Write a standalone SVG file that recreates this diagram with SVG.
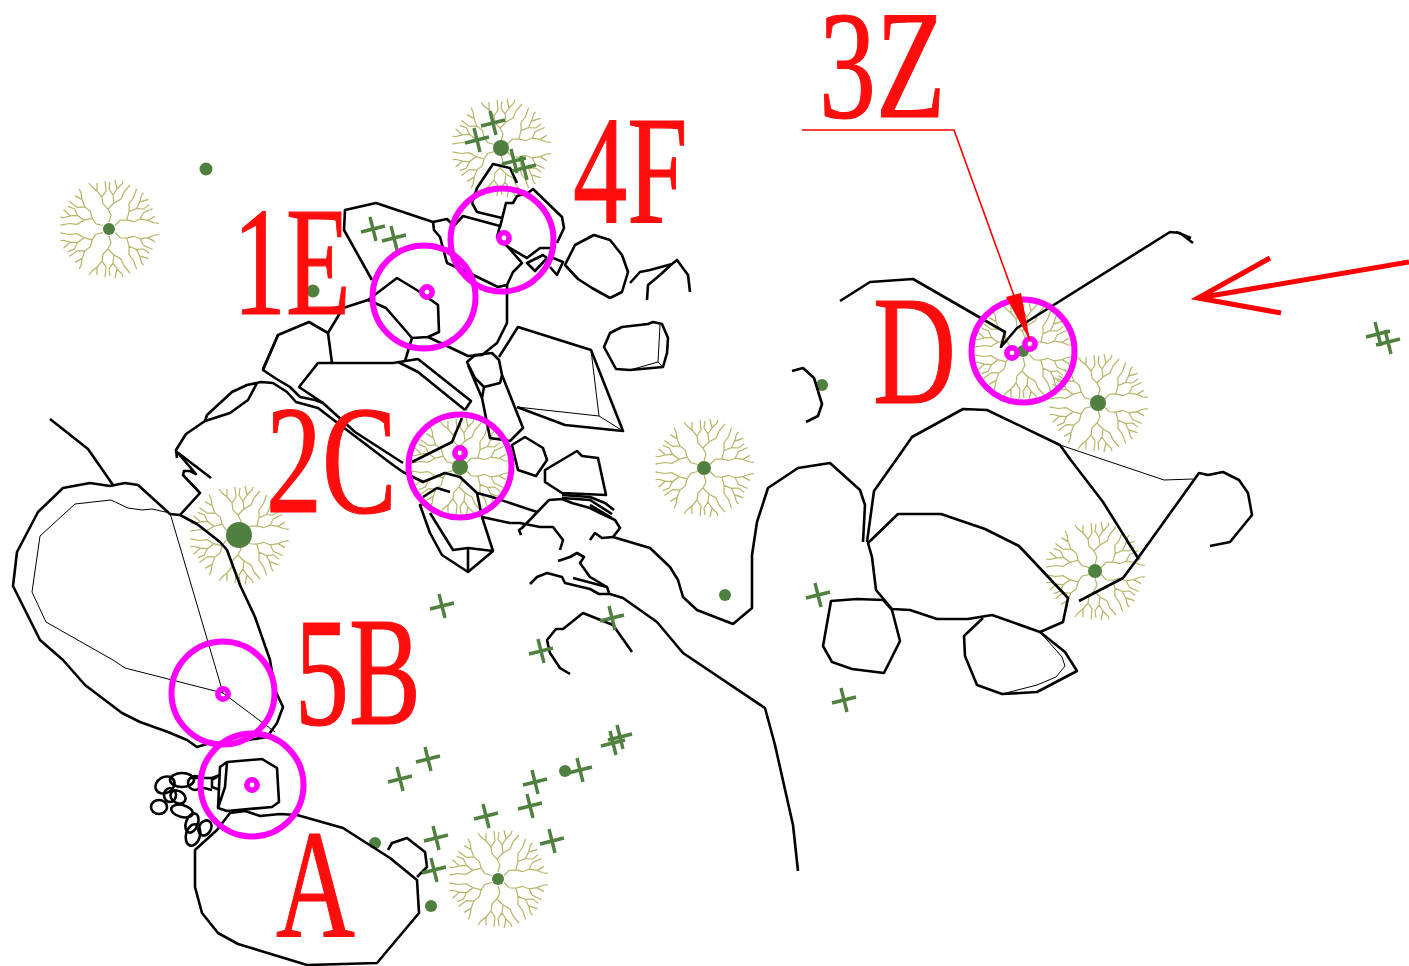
<svg xmlns="http://www.w3.org/2000/svg" width="1409" height="966" viewBox="0 0 1409 966">
<style>
.k{fill:none;stroke:#000;stroke-width:2.6;stroke-linejoin:round;stroke-linecap:butt}
.t{fill:none;stroke:#000;stroke-width:1}
.p{fill:none;stroke:#f0f;stroke-width:6}
.r{fill:none;stroke:#f0f;stroke-width:5.5}
.g{fill:#50803f}
.c{fill:none;stroke:#50803f;stroke-width:3.4}
.l{font-family:"Liberation Serif","Times New Roman",serif;font-size:154px;fill:#ff0d0d;stroke:#ff0d0d;stroke-width:1.2}
</style>
<defs>
<path id="w" d="M0-7L2-14L-1-20L-6-25L-7-32L-12-38L-12-46M-7-32L-3-38L-4-48M-12-38L-17-42L-20-46M-1-20L5-26L4-34L8-40L6-49M4-34L0-40L1-47M8-40L13-45L14-48M5-26L12-30L15-37L21-44"/>
<g id="tree" fill="none" stroke="#b5b568" stroke-width="1.2">
<use href="#w"/><use href="#w" transform="rotate(60) scale(-1 1)"/><use href="#w" transform="rotate(120)"/><use href="#w" transform="rotate(180) scale(-1 1)"/><use href="#w" transform="rotate(240)"/><use href="#w" transform="rotate(300) scale(-1 1)"/>
</g>
<path id="x" d="M-12 3L12-3M-3-12L3 12"/>
</defs>
<rect width="1409" height="966" fill="#fff"/>
<g id="trees">
<use href="#tree" x="109" y="229"/><use href="#tree" x="501" y="148"/><use href="#tree" x="239" y="535"/><use href="#tree" x="460" y="467"/><use href="#tree" x="704" y="468"/><use href="#tree" x="1023" y="351"/><use href="#tree" x="1098" y="403"/><use href="#tree" x="1095" y="571"/><use href="#tree" x="498" y="879"/>
</g>
<g id="dots" class="g">
<circle cx="109" cy="229" r="6"/><circle cx="501" cy="148" r="8"/><circle cx="239" cy="535" r="13"/><circle cx="460" cy="467" r="8"/><circle cx="704" cy="468" r="7"/><circle cx="1023" cy="351" r="6"/><circle cx="1098" cy="403" r="8"/><circle cx="1095" cy="571" r="7"/><circle cx="498" cy="879" r="6"/>
<circle cx="206" cy="169" r="6.5"/><circle cx="313" cy="291" r="6.5"/><circle cx="822" cy="385" r="6"/><circle cx="725" cy="595" r="6"/><circle cx="565" cy="771" r="6"/><circle cx="375" cy="843" r="6"/><circle cx="431" cy="906" r="6"/>
</g>
<g id="connectors">
<g class="k">
<path d="M50 419L88 449L113 485"/>
<path d="M63 488L90 483L110 486L125 483L138 485L170 514L180 515L197 524L220 542L227 550L240 585L255 617L270 660L275 690L283 707L277 723L267 737L230 743L210 743L197 747L187 740L168 732L140 722L122 713L85 685L63 660L40 640L13 586L17 552L38 512Z"/>
<path d="M180 515L200 493L183 475L184 471L190 471L196 474L177 452L211 478M177 458L176 450L186 434L205 421L230 413L248 400L257 383M205 421L207 415L232 392L247 385L261 382L273 383L287 392L296 402L318 408L335 421L393 465L403 472L423 482L445 473L460 477L477 493L492 497L537 512"/>
<path d="M278 335L263 370L275 378L290 387L300 397L315 400L323 403L355 432L403 463"/>
<path d="M263 369L278 335L309 322L328 333L332 363M328 333L343 308L368 300L386 308L412 338L405 361M323 403L299 387L318 363L393 363L418 359L471 401L465 410M398 362L418 372L465 410"/>
<path d="M372 280L344 230L345 210L376 203L433 222L434 230L440 237L447 263L467 272L498 287L507 285L513 272L522 263L508 247L497 237L500 226L463 216L450 230M433 222L447 219L453 225"/>
<path d="M368 300L397 278L420 292L438 305L439 332L428 337L412 338M428 337L468 356L482 355L497 343L507 323L507 285"/>
<path d="M500 227L506 203L513 203L517 196L528 193L533 189L562 217L564 228L557 243M472 203L477 188L493 164L510 168L517 183M472 203L477 212L502 218"/>
<path d="M508 247L527 258L540 248L550 248M527 263L543 255L547 258L535 271ZM553 258L563 262L557 275L550 267"/>
<path d="M565 265L575 245L594 235L610 240L622 255L628 272L622 292L610 298L592 288L578 279Z"/>
<path d="M630 283L640 272L650 270L672 264L677 260L688 275L690 292M647 300L648 285L660 275L672 264"/>
<path d="M604 347L610 333L622 327L648 324L653 322L662 324L668 338L667 353L663 367L630 370L616 369Z"/>
<path d="M499 357L518 327L591 350L623 431L565 425L517 407"/>
<path d="M467 362L475 355L492 353L499 360L502 375L500 383L484 387L475 378ZM468 365L482 398L490 438L510 441L523 428L502 375M484 387L482 398"/>
<path d="M512 445L525 437L543 448L547 460L536 476L518 470Z"/>
<path d="M545 470L577 451L582 456L598 458L606 495L562 493L545 482Z"/>
<path d="M562 495L590 497L605 503L614 510M562 498L590 500L612 514M590 505L612 518"/>
<path d="M412 462L452 442L462 418M423 497L437 488L450 492M428 503L420 505L430 533L442 555L468 572L493 551L482 517L477 493M430 513L453 550L468 548L493 551M468 548L468 572M482 517L510 523L520 523L540 527L553 527L563 540L560 550"/>
<path d="M521 535L519 530L522 528L549 500L562 499L572 503L590 508L600 513L615 520L620 528L613 537L650 548L670 567L678 580L683 597L697 610L733 624L752 608L752 555L757 522L768 488L798 468L830 463L860 490L865 505L863 542"/>
<path d="M613 537L602 538L595 533L590 540"/>
<path d="M558 561L570 557L577 553L584 557L580 563L590 577L607 587L609 593"/>
<path d="M530 584L537 577L547 573L562 577L565 583L590 589L599 594L610 594L623 598L657 622L683 653L765 708L775 745L793 825L798 871M573 578L607 587"/>
<path d="M570 674L560 668L550 653L547 640L556 629L563 629L583 613L613 625L632 652"/>
<path d="M792 371L803 368L814 378L822 404L818 416L806 422"/>
<path d="M840 301L870 282L913 279L1005 332L1001 347L1017 328L1170 232L1180 233L1193 243M1176 232L1191 238"/>
<path d="M867 542L874 491L903 450L912 437L963 409L987 410L1060 445L1070 459L1103 502L1138 558L1123 578L1079 601M1138 558L1199 473L1208 475L1223 472L1239 480L1248 493L1252 515L1230 542L1210 546"/>
<path d="M868 543L898 514L941 514L985 529L1019 546L1068 598L1063 622L1040 632L992 615L968 619L937 619L910 610L892 609L876 590L872 557Z"/>
<path d="M831 601L857 599L883 600L892 610L900 641L884 673L852 669L832 662L823 646Z"/>
<path d="M983 618L964 636L965 656L977 685L1002 694L1037 692L1077 671L1065 652L1040 632"/>
<path d="M195 850L195 887L202 913L218 933L238 944L307 965L377 963L419 913L417 880L390 858L343 828L297 815L280 814L260 816L245 811L230 813L217 830Z"/>
<path d="M227 762L262 759L277 768L279 802L272 807L227 811L218 808L220 767ZM227 762L225 787L218 808"/>
<path d="M220 775L212 780L212 787L220 790M190 778L212 778L220 775M200 787L212 790"/>
<path d="M388 850L392 843L407 838L425 852L427 867L417 877"/>
<ellipse cx="159" cy="807" rx="8" ry="7"/>
<ellipse cx="182" cy="811" rx="11" ry="6" transform="rotate(15 182 811)"/>
<ellipse cx="192" cy="823" rx="6" ry="10" transform="rotate(20 192 823)"/>
<ellipse cx="193" cy="835" rx="7" ry="11" transform="rotate(15 193 835)"/>
<ellipse cx="205" cy="828" rx="6" ry="8" transform="rotate(30 205 828)"/>
<ellipse cx="165" cy="785" rx="10" ry="8" transform="rotate(-30 165 785)"/>
<ellipse cx="178" cy="797" rx="8" ry="6" transform="rotate(30 178 797)"/>
<ellipse cx="182" cy="780" rx="12" ry="7"/>
<ellipse cx="195" cy="783" rx="7" ry="7"/>
<ellipse cx="170" cy="795" rx="6" ry="7"/>
</g>
<g class="t">
<path d="M170 513L152 509L142 510L128 508L111 500L75 504L40 536L32 592L46 622L113 660L125 668L223 693L275 732M170 513L223 693"/>
<path d="M660 325L658 362L663 367M658 362L630 370M591 350L599 416L623 431M517 407L599 416"/>
<path d="M1060 445L1164 480L1193 479"/>
<path d="M1040 632L1062 657L1065 666L1056 677L1037 685L1002 694"/>
</g>
</g>
<g id="crosses" class="c">
<use href="#x" x="373" y="229"/><use href="#x" x="394" y="238"/><use href="#x" x="477" y="140"/><use href="#x" x="493" y="123"/><use href="#x" x="514" y="161"/><use href="#x" x="524" y="168"/><use href="#x" x="442" y="606"/><use href="#x" x="612" y="618"/><use href="#x" x="541" y="651"/><use href="#x" x="818" y="595"/><use href="#x" x="844" y="700"/><use href="#x" x="400" y="779"/><use href="#x" x="428" y="759"/><use href="#x" x="535" y="782"/><use href="#x" x="580" y="770"/><use href="#x" x="530" y="806"/><use href="#x" x="486" y="816"/><use href="#x" x="552" y="841"/><use href="#x" x="436" y="838"/><use href="#x" x="434" y="870"/><use href="#x" x="613" y="743"/><use href="#x" x="620" y="737"/><use href="#x" x="1378" y="334"/><use href="#x" x="1388" y="342"/>
</g>
<g id="labels">
<text class="l" transform="translate(819 117) scale(.74 1)">3Z</text>
<text class="l" transform="translate(573 222) scale(.705 1)">4F</text>
<text class="l" transform="translate(233 314) scale(.687 1)">1E</text>
<text class="l" transform="translate(266 512) scale(.727 1)">2C</text>
<text class="l" transform="translate(873 403) scale(.746 1)">D</text>
<text class="l" transform="translate(295 724) scale(.70 1)">5B</text>
<text class="l" transform="translate(276 936) scale(.71 1)">A</text>
</g>
<g id="circles">
<circle class="p" cx="502" cy="240" r="51.5"/><circle class="p" cx="424" cy="297" r="51.5"/><circle class="p" cx="460" cy="466" r="51.5"/><circle class="p" cx="223" cy="693" r="51.5"/><circle class="p" cx="252" cy="785" r="51.5"/><circle class="p" cx="1023" cy="351" r="51.5"/>
<circle class="r" cx="504" cy="238" r="5.2"/><circle class="r" cx="427" cy="292" r="5.2"/><circle class="r" cx="460" cy="453" r="5.2"/><circle class="r" cx="223" cy="694" r="5.2"/><circle class="r" cx="252" cy="785" r="5.2"/><circle class="r" cx="1012" cy="353" r="5.2"/><circle class="r" cx="1030" cy="344" r="5.2"/>
</g>
<g id="arrows">
<path d="M802 130H954L1030 340" fill="none" stroke="#f00" stroke-width="1.6"/>
<path d="M1006 297L1021 293L1030 341Z" fill="#f00"/>
<path d="M1409 262L1198 298M1270 258L1198 298L1281 313" fill="none" stroke="#f00" stroke-width="5"/>
</g>
</svg>
